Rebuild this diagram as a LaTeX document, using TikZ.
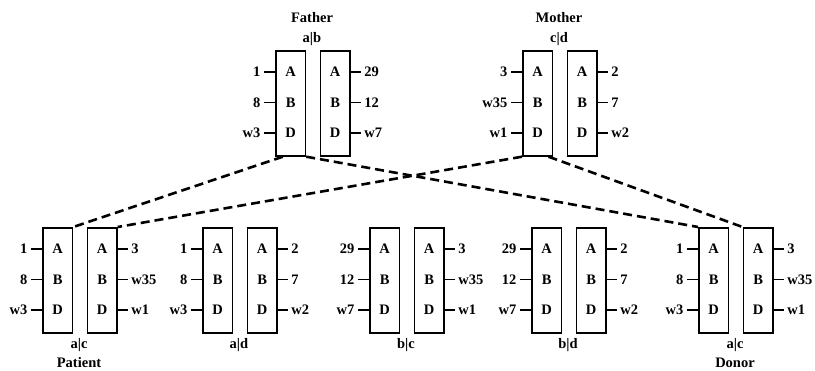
\documentclass[tikz,border=0pt]{standalone}
\usepackage{fontspec}
\setmainfont{Liberation Serif}
\usetikzlibrary{calc}

% #1 id, #2 left x, #3 top y, #4-#6 alleles left of first chromosome,
% #7-#9 alleles right of second chromosome
\newcommand\chrpair[9]{%
  \node[chrbox] (#1a) at (#2,#3) {};
  \node[chrbox] (#1b) at (#2+44.5,#3) {};
  \foreach \nm/\dy/\lt/\rt in {A/22/#4/#7, B/52.5/#5/#8, D/83/#6/#9} {
    \node[locus] (#1a\nm) at ($(#1a.north)+(0,\dy)$) {\nm};
    \node[locus] (#1b\nm) at ($(#1b.north)+(0,\dy)$) {\nm};
    \coordinate (#1aw\nm) at ($(#1a.north west)+(0,\dy)$);
    \coordinate (#1be\nm) at ($(#1b.north east)+(0,\dy)$);
    \node[allele, anchor=east] (#1al\nm) at ($(#1aw\nm)+(-11,0)$) {\lt};
    \node[allele, anchor=west] (#1br\nm) at ($(#1be\nm)+(10,0)$) {\rt};
    \draw[tick] (#1al\nm.east) -- (#1aw\nm);
    \draw[tick] (#1be\nm) -- (#1br\nm.west);
  }%
}

\begin{document}
\begin{tikzpicture}[x=1pt, y=-1pt,
  chrbox/.style={draw, line width=1.7pt, minimum width=29.5pt,
    minimum height=105pt, inner sep=0pt, anchor=north west},
  txt/.style={font=\fontsize{14.5}{17}\selectfont\bfseries},
  locus/.style={txt, inner sep=0pt},
  allele/.style={txt, inner xsep=3.5pt, inner ysep=0pt},
  caption/.style={txt, inner sep=0pt},
  tick/.style={line width=1.3pt},
  inherit/.style={line width=2.6pt, dash pattern=on 9pt off 5pt}]
\useasboundingbox (0,0) rectangle (815,371);

% parents
\chrpair{father}{275}{50}{1}{8}{w3}{29}{12}{w7}
\chrpair{mother}{522}{50}{3}{w35}{w1}{2}{7}{w2}
\node[caption] (fathername) at (312,18) {Father};
\node[caption] (fathergeno) at (312,39) {a|b};
\node[caption] (mothername) at (559,18) {Mother};
\node[caption] (mothergeno) at (559,39) {c|d};

% children
\chrpair{patient}{42}{227}{1}{8}{w3}{3}{w35}{w1}
\chrpair{sibad}{202}{227}{1}{8}{w3}{2}{7}{w2}
\chrpair{sibbc}{369}{227}{29}{12}{w7}{3}{w35}{w1}
\chrpair{sibbd}{531}{227}{29}{12}{w7}{2}{7}{w2}
\chrpair{donor}{698}{227}{1}{8}{w3}{3}{w35}{w1}

\node[caption] (patientgeno) at (79,345) {a|c};
\node[caption] (patientname) at (79,363) {Patient};
\node[caption] (sibadgeno) at (239,345) {a|d};
\node[caption] (sibbcgeno) at (406,345) {b|c};
\node[caption] (sibbdgeno) at (568,345) {b|d};
\node[caption] (donorgeno) at (735,345) {a|c};
\node[caption] (donorname) at (735,363) {Donor};

% inheritance of haplotypes a and c
\draw[inherit] ($(fathera.south west)!0.25!(fathera.south east)$) -- (patienta.north east);
\draw[inherit] (fathera.south east) -- (donora.north west);
\draw[inherit] (mothera.south west) -- (patientb.north east);
\draw[inherit] ($(mothera.south west)!0.85!(mothera.south east)$) -- (donorb.north west);
\end{tikzpicture}
\end{document}
